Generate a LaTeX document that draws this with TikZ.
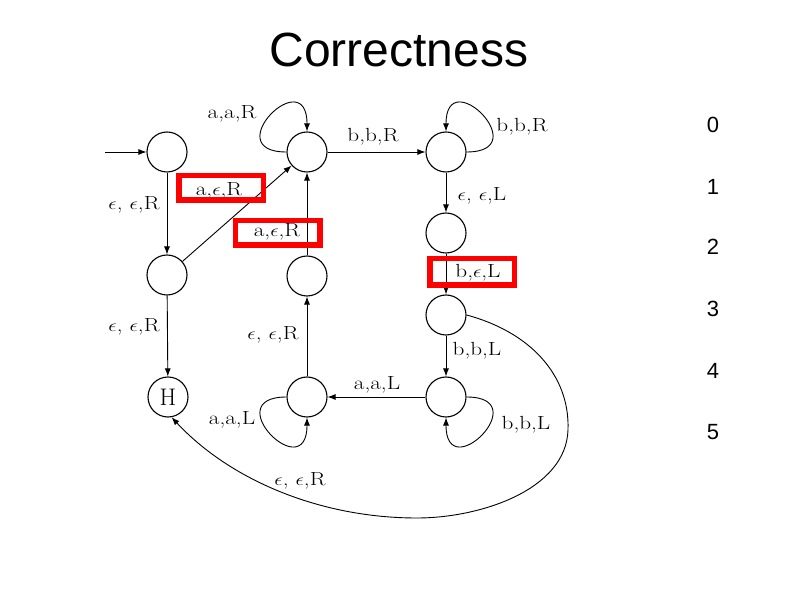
\documentclass[tikz,border=0pt]{standalone}
\usepackage{fontspec}
\newfontfamily\arialfont{Liberation Sans}
\usetikzlibrary{arrows.meta}
\newcommand{\wide}[1]{\scalebox{1.22}[1]{#1}}

\begin{document}
\begin{tikzpicture}[
  x=1pt, y=1pt,
  tmstate/.style={circle, draw=black, line width=1.1pt, minimum size=40pt,
                  inner sep=0pt, font=\fontsize{24}{28}\selectfont},
  edge/.style={black, line width=0.9pt, -{Latex[length=8pt,width=6pt]}},
  trans/.style={font=\fontsize{19}{22}\selectfont, inner sep=1pt},
  redbox/.style={draw=red, line width=5.5pt, minimum width=84.5pt,
                 minimum height=24.5pt, inner sep=0pt},
  rownum/.style={font=\arialfont\fontsize{22}{26}\selectfont},
]
  \useasboundingbox (0,0) rectangle (800,600);

  % ── Title ──
  \node[font=\arialfont\fontsize{48}{56}\selectfont] (title) at (399,550) {Correctness};

  % ── States ──
  \node[tmstate] (q0) at (167,448) {};
  \node[tmstate] (q1) at (307,448) {};
  \node[tmstate] (q2) at (446,448) {};
  \node[tmstate] (q3) at (446,367) {};
  \node[tmstate] (q4) at (167,325) {};
  \node[tmstate] (q5) at (307,324) {};
  \node[tmstate] (q6) at (446,285) {};
  \node[tmstate] (qh) at (168,203) {H};
  \node[tmstate] (q7) at (307,203) {};
  \node[tmstate] (q8) at (446,203) {};
  \coordinate (start) at (105,448);

  % ── Transitions ──
  \draw[edge] (start) -- (q0);
  \draw[edge] (q0) -- (q4);
  \draw[edge] (q4) -- (q1);
  \draw[edge] (q1) -- (q2);
  \draw[edge] (q2) -- (q3);
  \draw[edge] (q3) -- (q6);
  \draw[edge] (q5) -- (q1);
  \draw[edge] (q4) -- (qh);
  \draw[edge] (q7) -- (q5);
  \draw[edge] (q6) -- (q8);
  \draw[edge] (q8) -- (q7);

  % ── Self-loops ──
  \draw[edge] (q1.180) .. controls +(-70,0) and +(0,70) .. (q1.90);
  \draw[edge] (q2.0) .. controls +(70,0) and +(0,70) .. (q2.90);
  \draw[edge] (q7.180) .. controls +(-70,0) and +(0,-70) .. (q7.270);
  \draw[edge] (q8.0) .. controls +(70,0) and +(0,-70) .. (q8.270);

  % ── Return to halt ──
  \draw[edge] (q6.east) .. controls (530,268) and (570,225) .. (568,170)
    .. controls (566,110) and (480,82) .. (417,82)
    .. controls (320,82) and (230,120) .. (qh.-80);

  % ── Transition labels ──
  \node[trans] (t01) at (232,486) {\wide{a,a,R}};
  \node[trans] (t12) at (373,463) {\wide{b,b,R}};
  \node[trans] (t22) at (522,473) {\wide{b,b,R}};
  \node[trans] (t23) at (482,404) {\wide{$\epsilon$, $\epsilon$,L}};
  \node[trans] (t04) at (134,395) {\wide{$\epsilon$, $\epsilon$,R}};
  \node[trans] (t41) at (219,409) {\wide{a,$\epsilon$,R}};
  \node[trans] (t51) at (277,368) {\wide{a,$\epsilon$,R}};
  \node[trans] (t36) at (478,327) {\wide{b,$\epsilon$,L}};
  \node[trans] (t4h) at (134,273) {\wide{$\epsilon$, $\epsilon$,R}};
  \node[trans] (t75) at (273,265) {\wide{$\epsilon$, $\epsilon$,R}};
  \node[trans] (t77) at (232,180) {\wide{a,a,L}};
  \node[trans] (t87) at (377,215) {\wide{a,a,L}};
  \node[trans] (t68) at (477,249) {\wide{b,b,L}};
  \node[trans] (t88) at (526,175) {\wide{b,b,L}};
  \node[trans] (t6h) at (300,119) {\wide{$\epsilon$, $\epsilon$,R}};

  % ── Highlight boxes ──
  \node[redbox] (box1) at (221,412) {};
  \node[redbox] (box2) at (277.5,367) {};
  \node[redbox, minimum height=26.5pt] (box3) at (472,328) {};

  % ── Line numbers ──
  \foreach \i/\y in {0/475,1/413,2/353,3/291,4/229,5/168} {
    \node[rownum] (n\i) at (713,\y) {\i};
  }
\end{tikzpicture}
\end{document}
